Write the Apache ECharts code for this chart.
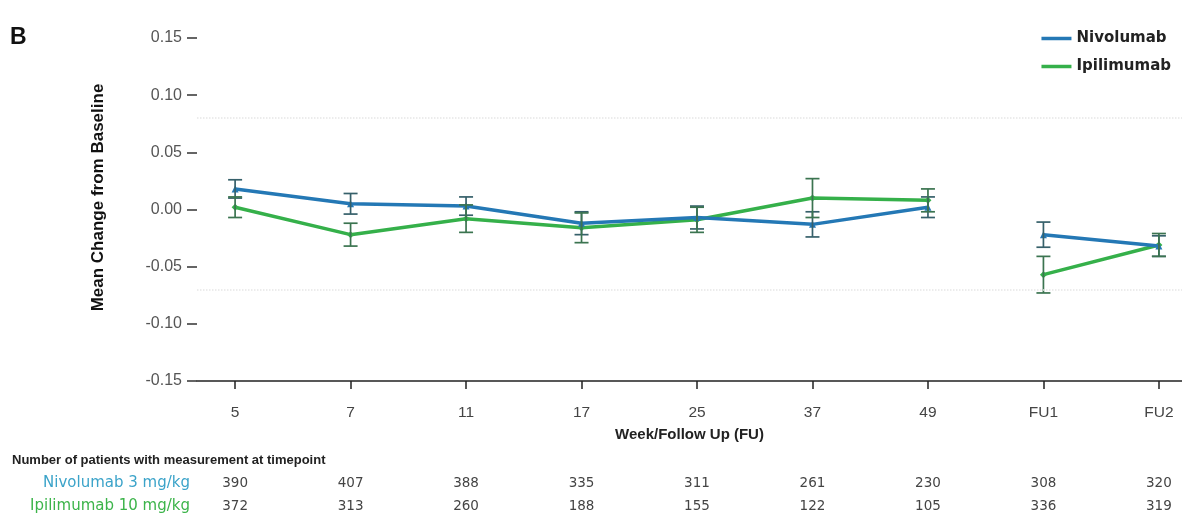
<!DOCTYPE html>
<html>
<head>
<meta charset="utf-8">
<script src="https://cdn.jsdelivr.net/npm/echarts@6/dist/echarts.min.js"></script>
<style>
html,body{margin:0;padding:0;background:#fff;}
#c{width:1182px;height:526px;}
</style>
</head>
<body>
<div id="c"></div>
<script>
// ---- data ----
var categories = ['5', '7', '11', '17', '25', '37', '49', 'FU1', 'FU2'];
var nivoMean = [0.018, 0.005, 0.003, -0.012, -0.007, -0.013, 0.002, -0.022, -0.032];
var nivoErr  = [0.008, 0.009, 0.008, 0.010, 0.010, 0.011, 0.009, 0.011, 0.009];
var ipiMean  = [0.002, -0.022, -0.008, -0.016, -0.009, 0.010, 0.008, -0.057, -0.031];
var ipiErr   = [0.009, 0.010, 0.012, 0.013, 0.011, 0.017, 0.010, 0.016, 0.010];
var nivoCount = [390, 407, 388, 335, 311, 261, 230, 308, 320];
var ipiCount  = [372, 313, 260, 188, 155, 122, 105, 336, 319];
var yTicks = [-0.15, -0.10, -0.05, 0.00, 0.05, 0.10, 0.15];
var breakAfter = 6; // no line between week 49 and FU1

var NIVO = '#2478b5', IPI = '#35b04a';
var NIVO_ERR = '#36606a', IPI_ERR = '#3b7450';
var FONT = '"Liberation Sans", Arial, sans-serif';
var WIDE = '"DejaVu Sans", sans-serif';

function lineData(mean) {
  var d = [];
  for (var i = 0; i < mean.length; i++) {
    d.push([i, mean[i]]);
    if (i === breakAfter) d.push([i + 0.5, '-']);
  }
  return d;
}
function errData(mean, err) {
  return mean.map(function (m, i) { return [i, m - err[i], m + err[i]]; });
}
function errRender(color) {
  return function (params, api) {
    var x = api.value(0);
    var lo = api.coord([x, api.value(1)]);
    var hi = api.coord([x, api.value(2)]);
    var w = 7;
    var st = { stroke: color, lineWidth: 1.7 };
    return {
      type: 'group',
      children: [
        { type: 'line', shape: { x1: lo[0], y1: lo[1], x2: hi[0], y2: hi[1] }, style: st },
        { type: 'line', shape: { x1: lo[0] - w, y1: lo[1], x2: lo[0] + w, y2: lo[1] }, style: st },
        { type: 'line', shape: { x1: hi[0] - w, y1: hi[1], x2: hi[0] + w, y2: hi[1] }, style: st }
      ]
    };
  };
}

var idx = categories.map(function (c, i) { return i; });
var XMIN = -0.33, XMAX = 8.2;

function countAxis(name, color, counts, offset) {
  return {
    type: 'value', position: 'bottom', min: XMIN, max: XMAX, offset: offset,
    axisLine: { show: false, onZero: false }, axisTick: { show: false }, splitLine: { show: false },
    axisLabel: {
      customValues: idx, margin: 0, verticalAlign: 'middle',
      color: '#444', fontSize: 13.5, fontFamily: WIDE,
      formatter: function (v) { return String(counts[Math.round(v)]); }
    },
    name: name, nameLocation: 'start', nameGap: 7,
    nameTextStyle: { color: color, fontSize: 15, fontFamily: WIDE, align: 'right', verticalAlign: 'middle' }
  };
}

var chart = echarts.init(document.getElementById('c'), null, { renderer: 'canvas' });
chart.setOption({
  backgroundColor: '#fff',
  animation: false,
  title: [
    { text: 'B', left: 5, top: 21, textStyle: { fontSize: 23, fontWeight: 'bold', color: '#111', fontFamily: FONT } },
    { text: 'Number of patients with measurement at timepoint', left: 7, top: 449,
      textStyle: { fontSize: 13, fontWeight: 'bold', color: '#222', fontFamily: FONT } }
  ],
  legend: {
    orient: 'vertical', right: 6, top: 26, itemGap: 13,
    itemWidth: 30, itemHeight: 3.5,
    data: [
      { name: 'Nivolumab', icon: 'rect' },
      { name: 'Ipilimumab', icon: 'rect' }
    ],
    textStyle: { fontSize: 15, fontWeight: 'bold', color: '#222', fontFamily: WIDE }
  },
  grid: { left: 197, right: 0, top: 38, bottom: 145 },
  xAxis: [
    {
      type: 'value', min: XMIN, max: XMAX,
      axisLine: { show: true, onZero: false, lineStyle: { color: '#222', width: 1.5 } },
      axisTick: { show: true, customValues: idx, length: 8, lineStyle: { color: '#222', width: 1.5 } },
      axisLabel: {
        customValues: idx, margin: 24, color: '#444', fontSize: 15.5, fontFamily: FONT,
        formatter: function (v) { return categories[Math.round(v)]; }
      },
      splitLine: { show: false },
      name: 'Week/Follow Up (FU)', nameLocation: 'middle', nameGap: 46,
      nameTextStyle: { fontSize: 15, fontWeight: 'bold', color: '#222', fontFamily: FONT }
    },
    countAxis('Nivolumab 3 mg/kg', '#3ba3c9', nivoCount, 102),
    countAxis('Ipilimumab 10 mg/kg', '#3cb44a', ipiCount, 125)
  ],
  yAxis: {
    type: 'value', min: yTicks[0], max: yTicks[yTicks.length - 1], interval: 0.05,
    axisLine: { show: false, onZero: false },
    axisTick: { show: true, length: 10, lineStyle: { color: '#333', width: 1.5 } },
    axisLabel: { margin: 15, color: '#555', fontSize: 16, fontFamily: FONT,
      formatter: function (v) { return v.toFixed(2); } },
    splitLine: { show: false },
    name: 'Mean Change from Baseline', nameLocation: 'middle', nameGap: 90,
    nameTextStyle: { fontSize: 17, fontWeight: 'bold', color: '#111', fontFamily: FONT, padding: [0, 0, 0, 24] }
  },
  series: [
    {
      name: 'Nivolumab', type: 'line', xAxisIndex: 0, data: lineData(nivoMean),
      connectNulls: false, symbol: 'triangle', symbolSize: 7, z: 3,
      lineStyle: { color: NIVO, width: 3.5 }, itemStyle: { color: NIVO },
      markLine: {
        silent: true, symbol: 'none', label: { show: false },
        lineStyle: { color: '#e6e6e6', type: 'dotted', width: 1.5 },
        data: [{ yAxis: 0.08 }, { yAxis: -0.075 }]
      }
    },
    {
      name: 'Ipilimumab', type: 'line', xAxisIndex: 0, data: lineData(ipiMean),
      connectNulls: false, symbol: 'diamond', symbolSize: 7, z: 2,
      lineStyle: { color: IPI, width: 3.5 }, itemStyle: { color: IPI }
    },
    {
      name: 'Nivolumab', type: 'custom', xAxisIndex: 0, data: errData(nivoMean, nivoErr),
      renderItem: errRender(NIVO_ERR), encode: { x: 0, y: [1, 2] }, z: 4
    },
    {
      name: 'Ipilimumab', type: 'custom', xAxisIndex: 0, data: errData(ipiMean, ipiErr),
      renderItem: errRender(IPI_ERR), encode: { x: 0, y: [1, 2] }, z: 4
    }
  ]
});
</script>
</body>
</html>
